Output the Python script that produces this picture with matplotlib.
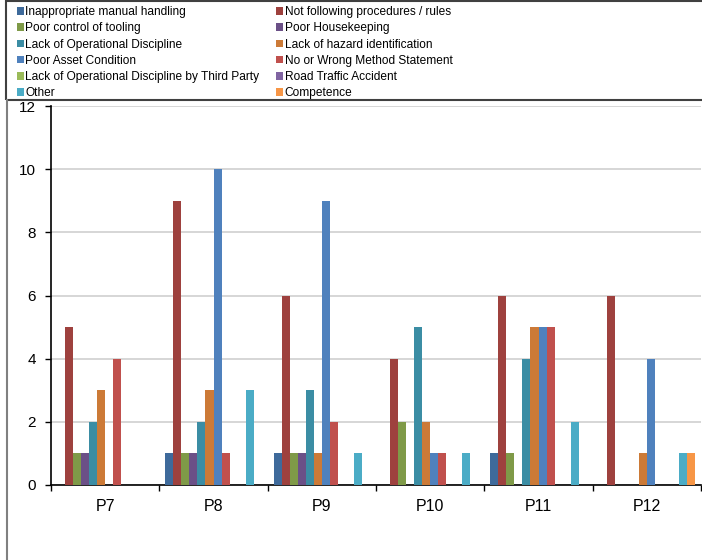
import matplotlib
matplotlib.use('Agg')
import matplotlib.pyplot as plt
from matplotlib.patches import Rectangle, Patch
from matplotlib.lines import Line2D
import numpy as np

periods = ['P7', 'P8', 'P9', 'P10', 'P11', 'P12']

causes = [
    'Inappropriate manual handling',
    'Not following procedures / rules',
    'Poor control of tooling',
    'Poor Housekeeping',
    'Lack of Operational Discipline',
    'Lack of hazard identification',
    'Poor Asset Condition',
    'No or Wrong Method Statement',
    'Lack of Operational Discipline by Third Party',
    'Road Traffic Accident',
    'Other',
    'Competence',
]

# incidents per period, one list per cause (same order as causes)
manual_handling = [0, 1, 1, 0, 1, 0]
not_following = [5, 9, 6, 4, 6, 6]
tooling = [1, 1, 1, 2, 1, 0]
housekeeping = [1, 1, 1, 0, 0, 0]
op_discipline = [2, 2, 3, 5, 4, 0]
hazard_id = [3, 3, 1, 2, 5, 1]
asset_condition = [0, 10, 9, 1, 5, 4]
method_statement = [4, 1, 2, 1, 5, 0]
third_party = [0, 0, 0, 0, 0, 0]
road_traffic = [0, 0, 0, 0, 0, 0]
other = [0, 3, 1, 1, 2, 1]
competence = [0, 0, 0, 0, 0, 1]

series = [manual_handling, not_following, tooling, housekeeping,
          op_discipline, hazard_id, asset_condition, method_statement,
          third_party, road_traffic, other, competence]

colors = ['#3e6a9b', '#9e413e', '#7f9a48', '#6b5087', '#3b8da4', '#cc7a37',
          '#4f81bd', '#c0504d', '#9bbb59', '#8064a2', '#4bacc6', '#f79646']

W, H = 702, 560


def fx(px):
    return px / W


def fy(py):
    return 1 - py / H


fig = plt.figure(figsize=(W / 100, H / 100), dpi=100)
fig.patch.set_facecolor('white')

ax = fig.add_axes([fx(51), fy(485), fx(701) - fx(51), fy(106) - fy(485)])

n = len(series)
bw = 1 / (n + 1.5)
x0 = np.arange(len(periods)) + 0.75 * bw
for j, vals in enumerate(series):
    ax.bar(x0 + j * bw, vals, width=bw, align='edge', color=colors[j],
           edgecolor='none', zorder=3)

ax.set_xlim(0, len(periods))
ax.set_ylim(0, 12)
ax.set_yticks(range(0, 13, 2))
ax.yaxis.grid(True, color='#cccccc', linewidth=1.1, zorder=0)

ax.set_xticks(range(len(periods) + 1))
ax.set_xticklabels([])
ax.set_xticks(np.arange(len(periods)) + 0.5, minor=True)
ax.set_xticklabels(periods, minor=True)
ax.tick_params(axis='x', which='major', length=4, width=1, direction='out')
ax.tick_params(axis='x', which='minor', length=0, pad=10, labelsize=11.5)
ax.tick_params(axis='y', length=4, width=1, direction='out', pad=7,
               labelsize=11)
for lab in ax.get_xticklabels(minor=True) + ax.get_yticklabels():
    lab.set_family(['Liberation Sans', 'DejaVu Sans'])

for s in ['top', 'right']:
    ax.spines[s].set_visible(False)
for s in ['left', 'bottom']:
    ax.spines[s].set_linewidth(1.2)
    ax.spines[s].set_color('black')

# legend box across the top and chart border on the left
fig.add_artist(Rectangle((fx(6), fy(100)), fx(720) - fx(6), fy(1) - fy(100),
                         transform=fig.transFigure, fill=False,
                         edgecolor='#404040', linewidth=1.5))
fig.add_artist(Line2D([fx(7), fx(7)], [fy(100), 0], transform=fig.transFigure,
                      color='#808080', linewidth=1.5))

handles = [Patch(facecolor=c, edgecolor='none') for c in colors]
order = list(range(0, n, 2)) + list(range(1, n, 2))
fig.legend([handles[i] for i in order], [causes[i] for i in order],
           loc='upper left', bbox_to_anchor=(fx(11), fy(0)), ncol=2,
           frameon=False, borderpad=0, handlelength=0.6, handleheight=0.6,
           handletextpad=0.1, labelspacing=0.36, columnspacing=1.4,
           prop={'family': ['Liberation Sans', 'DejaVu Sans'], 'size': 8.6})

fig.savefig('out.png', dpi=100)
